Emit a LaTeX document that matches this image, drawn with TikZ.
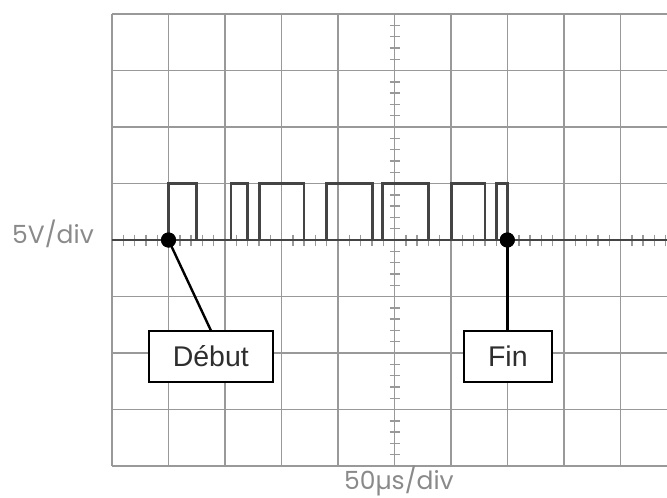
\documentclass[tikz,border=0pt]{standalone}
\usepackage{fontspec}
\setmainfont{Liberation Sans}
\newfontfamily\labfont{Poppins}
\newfontfamily\boxfont{Liberation Sans}
\definecolor{gridc}{HTML}{999999}
\definecolor{sigc}{HTML}{444444}
\definecolor{labc}{HTML}{8A8A8A}
\definecolor{txtc}{HTML}{2E2E2E}
\tikzset{
  gridline/.style={draw=gridc, line width=1.8pt},
  tickline/.style={draw=gridc, line width=1.4pt},
  signal/.style={draw=sigc, line width=2.6pt, line join=miter},
  conn/.style={draw=black, line width=2.4pt},
  dotmark/.style={circle, fill=black, inner sep=0pt, minimum size=15pt},
  labelbox/.style={draw=black, line width=1.5pt, fill=white, minimum height=51pt, inner sep=0pt, text=txtc, font=\boxfont\fontsize{28.5}{32}\selectfont},
  axislabel/.style={text=labc, inner sep=0pt, font=\labfont\fontsize{25}{28}\selectfont}
}
\begin{document}
\begin{tikzpicture}[x=1pt,y=-1pt]
\useasboundingbox (0,0) rectangle (667,498);
% grid
\foreach \k in {0,...,9} {
  \draw[gridline] ({112+56.5*\k},14) -- ({112+56.5*\k},466);
}
\foreach \j in {0,...,8} {
  \draw[gridline] (112,{14+56.5*\j}) -- (667,{14+56.5*\j});
}
% ticks on central axes
\foreach \t in {0,...,49} {
  \draw[tickline] ({112+11.3*\t},234.5) -- ({112+11.3*\t},245.5);
}
\foreach \t in {0,...,40} {
  \draw[tickline] (389.5,{14+11.3*\t}) -- (399.5,{14+11.3*\t});
}
% central horizontal axis (signal baseline)
\draw[signal] (112,240) -- (667,240);
% pulses
\draw[signal] (168.5,240) -- (168.5,183.5) -- (196.7,183.5) -- (196.7,240)
  (231,240) -- (231,183.5) -- (247.7,183.5) -- (247.7,240)
  (259.3,240) -- (259.3,183.5) -- (304,183.5) -- (304,240)
  (326.7,240) -- (326.7,183.5) -- (372.3,183.5) -- (372.3,240)
  (382.3,240) -- (382.3,183.5) -- (428.3,183.5) -- (428.3,240)
  (451.7,240) -- (451.7,183.5) -- (485,183.5) -- (485,240)
  (496.7,240) -- (496.7,183.5) -- (507.3,183.5) -- (507.3,240);
% markers and boxes
\node[dotmark] (d1) at (168.5,240) {};
\node[dotmark] (d2) at (507.3,240) {};
\node[labelbox, minimum width=124pt] (debut) at (210.8,356.5) {Début};
\node[labelbox, minimum width=88pt] (fin) at (507.8,356.5) {Fin};
\draw[conn] (d1.center) -- (debut.north);
\draw[conn] (d2.center) -- (d2.center |- fin.north);
\node[dotmark] at (d1) {};
\node[dotmark] at (d2) {};
% axis labels
\node[axislabel, anchor=base west] (vdiv) at (12,243.5) {5V/div};
\node[axislabel, anchor=base west] (tdiv) at (344,489) {50µs/div};
\end{tikzpicture}
\end{document}
